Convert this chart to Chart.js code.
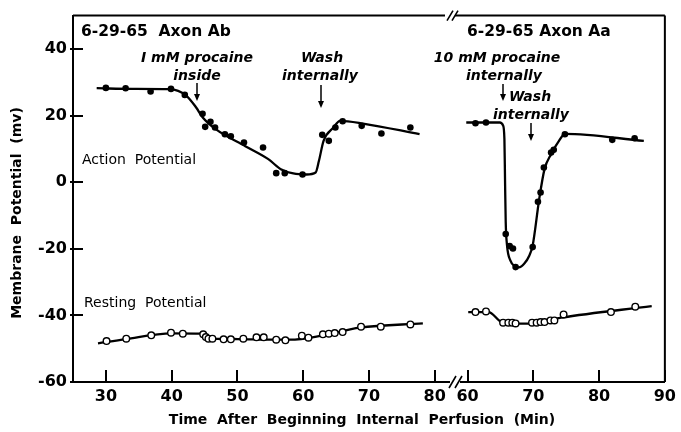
<!DOCTYPE html>
<html>
<head>
<meta charset="utf-8">
<script src="https://cdn.jsdelivr.net/npm/chart.js@4"></script>
<style>
  html, body { margin: 0; background: #fff; }
  #wrap { width: 681px; height: 432px; }
</style>
</head>
<body>
<div id="wrap"><canvas id="chart"></canvas></div>
<script>
// Broken time axis: the right panel (second axon) restarts at 60 min.
// Right-panel minutes are shifted by RIGHT_SHIFT so both panels share one linear scale.
const RIGHT_SHIFT = 25;

const xTickValues = [30, 40, 50, 60, 70, 80, 85, 95, 105, 115];
const xTickLabels = ['30', '40', '50', '60', '70', '80', '60', '70', '80', '90'];
const yTickValues = [-60, -40, -20, 0, 20, 40];

// Axon Ab (left panel) - [minutes, mV]
const apLeftPts = [[30, 28.3], [33, 28.2], [36.8, 27.2], [39.9, 28], [42, 26.2], [44.7, 20.5], [45.1, 16.6],
  [45.9, 18.1], [46.6, 16.4], [48.1, 14.4], [49, 13.8], [51, 11.9], [53.9, 10.4], [55.9, 2.7], [57.2, 2.7],
  [59.9, 2.3], [62.9, 14.2], [63.9, 12.4], [64.9, 16.4], [66, 18.3], [68.9, 16.9], [71.9, 14.6], [76.3, 16.4]];
const apLeftCurve = [[28.6, 28.2], [34, 28.0], [39.7, 27.9], [42.2, 26.0], [43.7, 22.5], [44.7, 19.5], [46.7, 15.9],
  [51.2, 10.8], [54.7, 6.9], [56.6, 3.9], [58.5, 2.6], [60.5, 2.3], [61.9, 2.9], [62.4, 6.4], [63.1, 12.4],
  [64.6, 16.4], [65.6, 18.4], [69.1, 17.6], [77.7, 14.4]];
const rpLeftPts = [[30.1, -47.7], [33.1, -47.0], [36.9, -46.0], [39.9, -45.2], [41.7, -45.5], [44.8, -45.7],
  [45.2, -46.5], [45.6, -47.0], [46.2, -47.0], [47.9, -47.2], [49, -47.2], [50.9, -47.0], [52.9, -46.6],
  [54, -46.6], [55.9, -47.3], [57.3, -47.5], [59.8, -46.1], [60.8, -46.7], [63, -45.7], [63.9, -45.5],
  [64.8, -45.3], [66, -45.0], [68.8, -43.4], [71.8, -43.4], [76.3, -42.7]];
const rpLeftCurve = [[28.8, -48.4], [33, -47.1], [40, -45.4], [44.5, -45.5], [45.2, -46.3], [46.2, -47.0],
  [50, -47.1], [55, -47.3], [58, -47.3], [63, -46.0], [68.6, -43.7], [78.2, -42.4]];

// Axon Aa (right panel) - [minutes, mV]
const apRightPts = [[61.2, 17.7], [62.8, 17.9], [65.8, -15.6], [66.4, -19.2], [66.9, -19.9], [67.3, -25.5],
  [69.9, -19.5], [70.7, -5.9], [71.1, -3.1], [71.6, 4.4], [72.7, 8.9], [73.1, 9.7], [74.8, 14.4],
  [82, 12.7], [85.4, 13.2]];
const apRightCurve = [[59.8, 17.9], [64.9, 17.9], [65.4, 17.0], [65.6, 13], [65.7, 0], [65.8, -12], [66, -19],
  [66.5, -23.5], [67.2, -25.3], [67.8, -25.6], [68.6, -24.5], [69.4, -22], [69.9, -19], [70.9, -5],
  [71.7, 3.9], [72.7, 8.4], [73.9, 12.4], [74.8, 14.5], [86.8, 12.4]];
const rpRightPts = [[61.2, -39.0], [62.8, -38.8], [65.4, -42.2], [66.2, -42.2], [66.8, -42.2], [67.3, -42.4],
  [69.8, -42.2], [70.5, -42.2], [71.1, -42.0], [71.7, -42.0], [72.6, -41.5], [73.2, -41.5], [74.6, -39.7],
  [81.8, -39.0], [85.5, -37.4]];
const rpRightCurve = [[60.1, -39.0], [63.2, -39.0], [64.9, -41.7], [65.7, -42.5], [69.4, -42.5], [74.2, -40.7],
  [88, -37.2]];

const toXY = (pts, shift) => pts.map(([t, v]) => ({ x: t + shift, y: v }));

function curve(pts, shift) {
  return {
    type: 'line', data: toXY(pts, shift), borderColor: '#000', borderWidth: 2.3,
    pointRadius: 0, cubicInterpolationMode: 'monotone', fill: false, order: 2
  };
}
function dots(pts, shift, open) {
  return {
    type: 'scatter', data: toXY(pts, shift), showLine: false, order: 1,
    pointRadius: open ? 3.3 : 3.3, pointBorderWidth: open ? 1.4 : 0,
    pointBackgroundColor: open ? '#fff' : '#000', pointBorderColor: '#000'
  };
}

const FONT = "'DejaVu Sans', sans-serif";

const decorations = {
  id: 'decorations',
  afterDraw(chart) {
    const { ctx, chartArea: a, scales: { x, y } } = chart;
    ctx.save();
    ctx.strokeStyle = '#000';
    ctx.fillStyle = '#000';
    ctx.lineWidth = 2;

    // frame: top (with break) and right
    ctx.beginPath();
    ctx.moveTo(a.left, a.top); ctx.lineTo(445, a.top);
    ctx.moveTo(455, a.top); ctx.lineTo(a.right, a.top);
    ctx.moveTo(a.right, a.top); ctx.lineTo(a.right, a.bottom);
    ctx.stroke();

    // break gap in the bottom axis
    ctx.fillStyle = '#fff';
    ctx.fillRect(450, a.bottom - 2, 10, 4);
    ctx.fillStyle = '#000';
    ctx.lineWidth = 1.6;
    ctx.beginPath();
    [[447, 453], [452, 458]].forEach(([x0, x1]) => {
      ctx.moveTo(x0, a.top + 5); ctx.lineTo(x1, a.top - 5);
    });
    [[449, 456], [455, 462]].forEach(([x0, x1]) => {
      ctx.moveTo(x0, a.bottom + 6); ctx.lineTo(x1, a.bottom - 6);
    });
    ctx.stroke();

    // tick marks, drawn inward
    ctx.lineWidth = 2;
    ctx.beginPath();
    xTickValues.forEach(v => {
      const px = Math.round(x.getPixelForValue(v));
      ctx.moveTo(px, a.bottom); ctx.lineTo(px, a.bottom - 12);
    });
    yTickValues.forEach(v => {
      const py = Math.round(y.getPixelForValue(v));
      ctx.moveTo(a.left - 3, py); ctx.lineTo(a.left + 10, py);
    });
    ctx.stroke();

    // text
    ctx.textBaseline = 'middle';
    ctx.textAlign = 'left';
    ctx.font = `bold 15.5px ${FONT}`;
    ctx.fillText('6-29-65  Axon Ab', 81, 32);
    ctx.fillText('6-29-65 Axon Aa', 467, 32);

    ctx.font = `14px ${FONT}`;
    ctx.fillText('Action  Potential', 82, 160);
    ctx.fillText('Resting  Potential', 84, 303);

    ctx.textAlign = 'center';
    ctx.font = `italic bold 14px ${FONT}`;
    ctx.fillText('I mM procaine', 197, 58);
    ctx.fillText('inside', 197, 76);
    ctx.fillText('Wash', 322, 58);
    ctx.fillText('internally', 320, 76);
    ctx.fillText('10 mM procaine', 497, 58);
    ctx.fillText('internally', 504, 76);
    ctx.fillText('Wash', 530, 97);
    ctx.fillText('internally', 531, 115);

    ctx.font = `bold 14px ${FONT}`;
    ctx.fillText('Time  After  Beginning  Internal  Perfusion  (Min)', 362, 420);

    ctx.save();
    ctx.translate(17, 213);
    ctx.rotate(-Math.PI / 2);
    ctx.font = `bold 14px ${FONT}`;
    ctx.fillText('Membrane  Potential  (mv)', 0, 0);
    ctx.restore();

    // arrows
    const arrow = (ax, y0, y1) => {
      ctx.lineWidth = 1.5;
      ctx.beginPath();
      ctx.moveTo(ax, y0); ctx.lineTo(ax, y1 - 4);
      ctx.stroke();
      ctx.beginPath();
      ctx.moveTo(ax - 3, y1 - 7); ctx.lineTo(ax + 3, y1 - 7); ctx.lineTo(ax, y1);
      ctx.closePath();
      ctx.fill();
    };
    arrow(197, 83, 101);
    arrow(321, 85, 108);
    arrow(503, 84, 101);
    arrow(531, 123, 141);

    ctx.restore();
  }
};

new Chart(document.getElementById('chart'), {
  type: 'scatter',
  data: {
    datasets: [
      curve(apLeftCurve, 0), curve(rpLeftCurve, 0),
      curve(apRightCurve, RIGHT_SHIFT), curve(rpRightCurve, RIGHT_SHIFT),
      dots(apLeftPts, 0, false), dots(rpLeftPts, 0, true),
      dots(apRightPts, RIGHT_SHIFT, false), dots(rpRightPts, RIGHT_SHIFT, true)
    ]
  },
  options: {
    responsive: true,
    maintainAspectRatio: false,
    animation: false,
    layout: { padding: { top: 15, right: 10, left: 0, bottom: 0 } },
    plugins: { legend: { display: false }, tooltip: { enabled: false } },
    scales: {
      x: {
        type: 'linear', min: 25, max: 115,
        afterBuildTicks: s => { s.ticks = xTickValues.map(v => ({ value: v })); },
        afterFit: s => { s.height = 50; },
        grid: { display: false, drawTicks: false },
        border: { display: true, color: '#000', width: 2 },
        ticks: {
          padding: 5, color: '#000', maxRotation: 0, autoSkip: false,
          font: { family: FONT, size: 16, weight: 'bold' },
          callback: v => xTickLabels[xTickValues.indexOf(v)]
        }
      },
      y: {
        type: 'linear', min: -60, max: 50,
        afterBuildTicks: s => { s.ticks = yTickValues.map(v => ({ value: v })); },
        afterFit: s => { s.width = 73; },
        grid: { display: false, drawTicks: false },
        border: { display: true, color: '#000', width: 2 },
        ticks: {
          padding: 6, color: '#000',
          font: { family: FONT, size: 16, weight: 'bold' }
        }
      }
    }
  },
  plugins: [decorations]
});
</script>
</body>
</html>
